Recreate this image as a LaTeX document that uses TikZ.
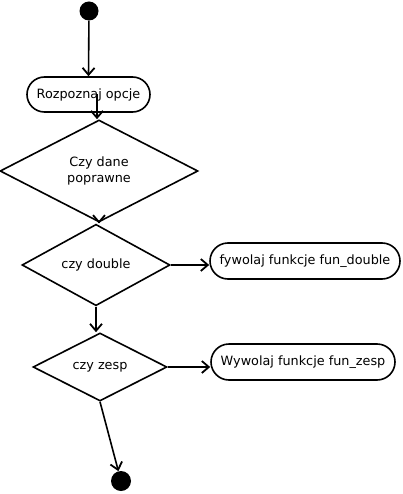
\documentclass[tikz,border=0pt]{standalone}
\usepackage{fontspec}
\setmainfont{DejaVu Sans}
\usetikzlibrary{shapes.geometric,shapes.misc,arrows.meta}
\begin{document}
\begin{tikzpicture}[x=1pt,y=-1pt,
  every node/.style={font=\fontsize{12.8}{15.5}\selectfont, inner sep=0pt},
  dot/.style={circle,fill=black,minimum size=19pt},
  act/.style={rounded rectangle,draw,line width=1.6pt},
  dec/.style={diamond,draw,line width=1.6pt,align=center},
  conn/.style={line width=1.6pt,-{Straight Barb[length=7pt,width=12pt,line width=1.8pt]}}
]
\useasboundingbox (0,0) rectangle (403,494);
\node[dot] (start) at (89,11) {};
\node[act,minimum width=123pt,minimum height=35pt] (b1) at (88.5,94.5) {Rozpoznaj opcje};
\node[dec,minimum width=198pt,minimum height=102pt] (d1) at (99,171) {Czy dane\\poprawne};
\node[dec,minimum width=148pt,minimum height=74pt] (d2) at (96,265) {czy double};
\node[act,minimum width=190pt,minimum height=36pt] (b2) at (305,261) {fywolaj funkcje fun\_double};
\node[dec,minimum width=134pt,minimum height=68pt] (d3) at (100,367) {czy zesp};
\node[act,minimum width=184pt,minimum height=36pt] (b3) at (303,362) {Wywolaj funkcje fun\_zesp};
\node[dot,minimum size=20pt] (end) at (121,481) {};
\coordinate (c1) at ([xshift=8.5pt]b1.center);
\draw[conn] (start) -- (b1.north);
\draw[conn] (c1) -- (c1 |- d1.north);
\draw[conn] (d1.south) -- (d1.south |- d2.north);
\draw[conn] (d2.east) -- (d2.east -| b2.west);
\draw[conn] (d2.south) -- (d2.south |- d3.north);
\draw[conn] (d3.east) -- (d3.east -| b3.west);
\draw[conn] (d3.south) -- (end);
\end{tikzpicture}
\end{document}
